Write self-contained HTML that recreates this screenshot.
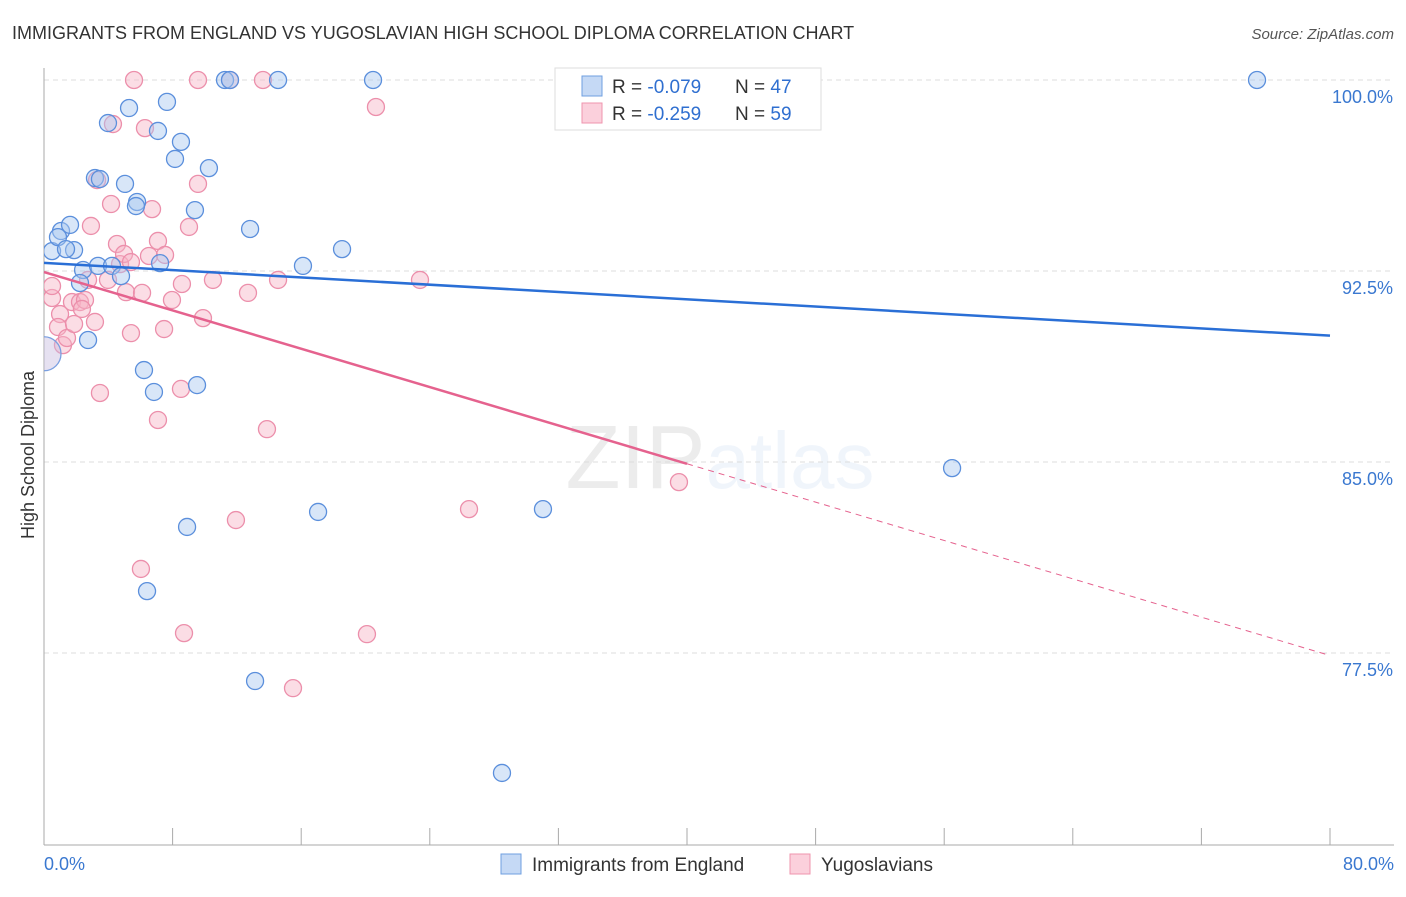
<!DOCTYPE html>
<html><head><meta charset="utf-8"><style>
body{margin:0;background:#fff;font-family:"Liberation Sans",sans-serif;}
svg text{font-family:"Liberation Sans",sans-serif;}
</style></head><body>
<svg id="c" width="1406" height="892" xmlns="http://www.w3.org/2000/svg">
<defs><clipPath id="plot"><rect x="44" y="60" width="1360" height="785"/></clipPath></defs>
<text x="12" y="39" font-size="18" fill="#333">IMMIGRANTS FROM ENGLAND VS YUGOSLAVIAN HIGH SCHOOL DIPLOMA CORRELATION CHART</text>
<text x="1394" y="39" font-size="15" fill="#555" text-anchor="end" font-style="italic">Source: ZipAtlas.com</text>
<text x="720" y="488" font-size="90" text-anchor="middle" fill="#000" opacity="0.07" font-family="Liberation Serif">ZIP<tspan fill="#3a7bd5" opacity="1.8" font-family="Liberation Sans" font-size="80">atlas</tspan></text>
<g id="grid"></g>
<g id="pts" clip-path="url(#plot)"></g>
<g id="lines"></g>
<text transform="translate(34,455) rotate(-90)" font-size="18" fill="#333" text-anchor="middle">High School Diploma</text>
<text x="44" y="870" font-size="18" fill="#3a78d0">0.0%</text>
<text x="1394" y="870" font-size="18" fill="#3a78d0" text-anchor="end">80.0%</text>
<g>
<rect x="555" y="68" width="266" height="62" fill="#fff" stroke="#ddd"/>
<rect x="582" y="76" width="20" height="20" fill="#c5d9f5" stroke="#6f9fe0"/>
<rect x="582" y="103" width="20" height="20" fill="#fbd0dc" stroke="#ef94ae"/>
<text x="612" y="93" font-size="19" fill="#333">R = <tspan fill="#2f6fd0">-0.079</tspan><tspan x="735">N = </tspan><tspan fill="#2f6fd0">47</tspan></text>
<text x="612" y="120" font-size="19" fill="#333">R = <tspan fill="#2f6fd0">-0.259</tspan><tspan x="735">N = </tspan><tspan fill="#2f6fd0">59</tspan></text>
</g>
<g>
<rect x="501" y="854" width="20" height="20" fill="#c5d9f5" stroke="#6f9fe0"/>
<text x="532" y="871" font-size="19" fill="#333">Immigrants from England</text>
<rect x="790" y="854" width="20" height="20" fill="#fbd0dc" stroke="#ef94ae"/>
<text x="821" y="871" font-size="19" fill="#333">Yugoslavians</text>
</g>
</svg>
<script>
const yTicks=[100,92.5,85,77.5];
const yTickLabels=["100.0%","92.5%","85.0%","77.5%"];
const xTicks=[0,8,16,24,32,40,48,56,64,72,80];
const blueX=[0.50,1.06,0.87,1.62,1.87,1.37,2.43,2.24,2.74,3.17,3.48,3.36,3.98,4.23,4.79,5.04,5.29,5.79,5.72,6.22,6.84,7.09,7.22,7.65,8.15,8.52,8.90,9.39,9.52,10.26,6.41,11.26,11.57,12.82,13.13,14.56,16.11,17.05,18.54,20.47,28.49,31.04,56.49,75.46,33.03];
const blueY=[93.28,94.07,93.83,94.31,93.32,93.36,92.54,92.03,89.79,96.15,96.11,92.70,98.31,92.70,92.30,95.92,98.90,95.21,95.05,88.61,87.75,98.00,92.81,99.14,96.90,97.57,82.45,94.89,88.02,96.54,79.93,100,100,94.15,76.40,100,92.70,83.04,93.36,100,72.79,83.15,84.76,100,100];
const pinkX=[0.50,0.50,1.00,0.87,1.18,1.43,1.74,1.87,2.24,2.55,2.36,2.74,2.92,3.17,3.30,3.48,3.98,4.17,4.29,4.54,4.73,4.98,5.10,5.41,5.41,6.10,6.03,6.28,6.72,6.53,7.09,7.09,7.47,7.53,7.96,8.58,8.52,8.71,9.02,9.58,9.89,10.51,11.94,12.69,13.87,14.56,15.49,13.62,11.57,9.58,5.60,20.09,20.65,23.39,26.44,39.50];
const pinkY=[91.44,91.91,90.81,90.30,89.59,89.87,91.28,90.42,91.28,91.36,91.01,92.15,94.27,90.50,96.07,87.71,92.15,95.13,98.27,93.56,92.77,93.17,91.67,92.85,90.06,91.64,80.80,98.11,94.93,93.09,93.68,86.65,90.22,93.13,91.36,91.99,87.87,78.28,94.23,95.92,90.65,92.15,82.72,91.64,86.29,92.15,76.12,100,100,100,100,78.24,98.94,92.15,83.15,84.21];
const blueTrend=[92.82,89.96];
const pinkTrend=[92.46,77.4];
const NS="http://www.w3.org/2000/svg";
const sx=v=>44+v/80*1286;
const sy=v=>80+(100-v)/7.5*191;
function mk(t,a,p){const e=document.createElementNS(NS,t);for(const k in a)e.setAttribute(k,a[k]);p.appendChild(e);return e;}
const grid=document.getElementById('grid'),pts=document.getElementById('pts'),lines=document.getElementById('lines');
yTicks.forEach((v,i)=>{
 const l=mk('line',{x1:44,x2:1394,y1:sy(v),y2:sy(v),stroke:'#ddd','stroke-dasharray':'5,4'},grid);
 
 
 const t=mk('text',{x:1393,y:sy(v)+23,'font-size':18,fill:'#3a78d0','text-anchor':'end'},grid);
 t.textContent=yTickLabels[i];
 
 
});
const ax=mk('line',{x1:44,x2:44,y1:68,y2:845,stroke:'#aaa'},grid);


const bx=mk('line',{x1:44,x2:1394,y1:845,y2:845,stroke:'#aaa'},grid);


xTicks.forEach(v=>{
 const t=mk('line',{x1:sx(v),x2:sx(v),y1:828,y2:845,stroke:'#aaa'},grid);
 
 
});
function dot(x,y,r,f,s,name){
 const c=mk('circle',{cx:sx(x),cy:sy(y),r:r,fill:f,'fill-opacity':0.45,stroke:s,'stroke-width':1.3},pts);
 
 
}
pinkX.forEach((x,i)=>dot(x,pinkY[i],8.5,'#f6b3c6','#ec8fab','pink-point'));
blueX.forEach((x,i)=>dot(x,blueY[i],8.5,'#a9c8f0','#5b8fdc','blue-point'));
dot(0,89.25,17,'#c7bde0','#7a9fe0','big-point');
const bl=mk('line',{x1:sx(0),y1:sy(blueTrend[0]),x2:sx(80),y2:sy(blueTrend[1]),stroke:'#2a6fd6','stroke-width':2.5},lines);


const pm=v=>pinkTrend[0]+(pinkTrend[1]-pinkTrend[0])*v/80;
const pl=mk('line',{x1:sx(0),y1:sy(pinkTrend[0]),x2:sx(40),y2:sy(pm(40)),stroke:'#e5628e','stroke-width':2.5},lines);


const pd=mk('line',{x1:sx(40),y1:sy(pm(40)),x2:sx(80),y2:sy(pinkTrend[1]),stroke:'#e5628e','stroke-width':1,'stroke-dasharray':'6,5'},lines);


</script>
</body></html>
